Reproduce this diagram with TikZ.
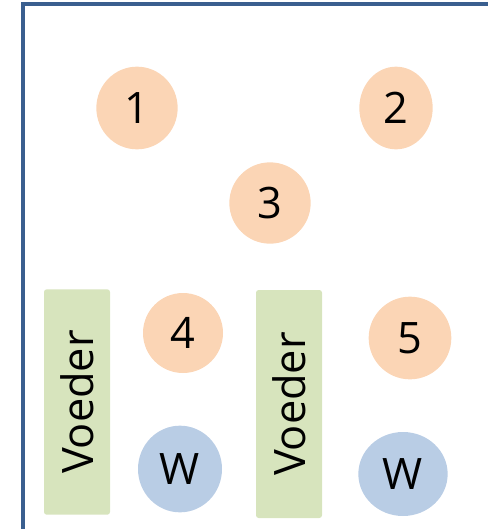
\documentclass[tikz,border=0pt]{standalone}
\usepackage{fontspec}
\setmainfont{Open Sans}
\usetikzlibrary{shapes.geometric}

\definecolor{kipkleur}{HTML}{FBD5B5}
\definecolor{waterkleur}{HTML}{B9CDE5}
\definecolor{voerkleur}{HTML}{D7E4BD}
\definecolor{randkleur}{HTML}{3A5F8F}

\tikzset{
  kip/.style={ellipse,fill=kipkleur,inner sep=0pt},
  water/.style={ellipse,fill=waterkleur,inner sep=0pt},
  voeder/.style={rectangle,rounded corners=2pt,fill=voerkleur,inner sep=0pt}
}

\begin{document}
\begin{tikzpicture}[x=0.75pt,y=-0.75pt]
\fontsize{32.5}{38}\selectfont
\useasboundingbox (0,0) rectangle (488,529);

% rand van het hok
\draw[randkleur,line width=2.4pt] (23,531) -- (23,4) -- (490,4);

% kippen
\node[kip,minimum width=61pt,minimum height=62pt] (k1) at (137,108) {1};
\node[kip,minimum width=55pt,minimum height=62pt] (k2) at (396,108) {2};
\node[kip,minimum width=61pt,minimum height=61pt] (k3) at (270,203) {3};
\node[kip,minimum width=60pt,minimum height=60pt] (k4) at (183,333) {4};
\node[kip,minimum width=62pt,minimum height=62pt] (k5) at (410,338) {5};

% voederbakken
\node[voeder,minimum width=49.5pt,minimum height=169pt] (v1) at (77,402) {};
\node[rotate=90] (v1t) at (v1) {Voeder};
\node[voeder,minimum width=49.5pt,minimum height=171pt] (v2) at (289,404) {};
\node[rotate=90] (v2t) at (v2) {Voeder};

% water
\node[water,minimum width=63pt,minimum height=65pt] (w1) at (180,469) {W};
\node[water,minimum width=67pt,minimum height=63pt] (w2) at (403,474) {W};

\end{tikzpicture}
\end{document}
